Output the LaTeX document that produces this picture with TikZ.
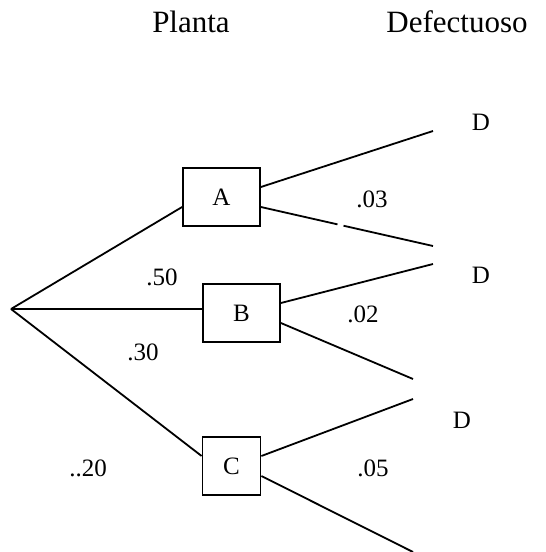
\documentclass[tikz,border=0pt]{standalone}
\usepackage{fontspec}
\setmainfont{Liberation Serif}
\usetikzlibrary{calc}
\begin{document}
\begin{tikzpicture}[x=1pt,y=-1pt,
  ln/.style={line width=1.8pt},
  plant/.style={draw,line width=1.8pt,minimum height=58pt,inner sep=0pt,font=\fontsize{25}{29}\selectfont},
  lbl/.style={inner sep=0pt,font=\fontsize{25}{29}\selectfont},
  hdr/.style={inner sep=0pt,font=\fontsize{31}{35}\selectfont}]
\useasboundingbox (0,0) rectangle (546,552);
\node[hdr] (h1) at (191,22) {Planta};
\node[hdr] (h2) at (457,22) {Defectuoso};
\coordinate (r) at (11,309);
\node[plant,minimum width=77pt] (A) at (221.5,197) {A};
\node[plant,minimum width=77pt] (B) at (241.5,313) {B};
\node[plant,minimum width=58pt] (C) at (231.5,466) {C};
\coordinate (ea1) at (433,131);
\coordinate (ea2) at (433,246);
\coordinate (eb1) at (433,264);
\coordinate (eb2) at (413,379);
\coordinate (ec1) at (413,399);
\coordinate (ec2) at (413,552);
\draw[ln] (r) -- ([yshift=-10pt]A.west);
\draw[ln] (r) -- ([yshift=4pt]B.west);
\draw[ln] (r) -- ([yshift=10pt]C.west);
\draw[ln] ([yshift=10pt]A.east) -- (ea1);
\draw[ln] ([yshift=-10pt]A.east) -- ($([yshift=-10pt]A.east)!0.445!(ea2)$)
  ($([yshift=-10pt]A.east)!0.48!(ea2)$) -- (ea2);
\draw[ln] ([yshift=10pt]B.east) -- (eb1);
\draw[ln] ([yshift=-10pt]B.east) -- (eb2);
\draw[ln] ([yshift=10pt]C.east) -- (ec1);
\draw[ln] ([yshift=-10pt]C.east) -- (ec2);
\node[lbl] (d1) at (481,122) {D};
\node[lbl] (d2) at (481,275) {D};
\node[lbl] (d3) at (462,420) {D};
\node[lbl] (p03) at (372,199) {.03};
\node[lbl] (p02) at (363,314) {.02};
\node[lbl] (p05) at (373,468) {.05};
\node[lbl] (p50) at (162,277) {.50};
\node[lbl] (p30) at (143,352) {.30};
\node[lbl] (p20) at (88,468) {..20};
\end{tikzpicture}
\end{document}
